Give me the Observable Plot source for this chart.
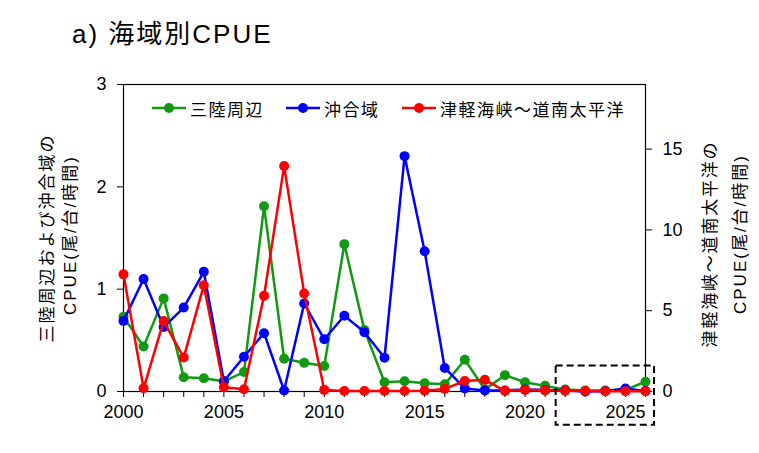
<!DOCTYPE html>
<html>
<head>
<meta charset="utf-8">
<script src="https://cdn.jsdelivr.net/npm/d3@7"></script>
<script src="https://cdn.jsdelivr.net/npm/@observablehq/plot@0.6"></script>
<style>
  html, body { margin: 0; padding: 0; background: #fff; }
  #wrap { position: relative; width: 759px; height: 453px; overflow: hidden; }
  #title { position: absolute; left: 72px; top: 20px; font-family: "Liberation Sans", "Noto Sans CJK JP", sans-serif; font-size: 26px; letter-spacing: 2px; line-height: 28px; color: #000; white-space: nowrap; }
  .leg { position: absolute; top: 98px; height: 20px; display: flex; align-items: center; font-family: "Noto Sans CJK JP", sans-serif; font-size: 17px; letter-spacing: 1.5px; color: #000; white-space: nowrap; }
  .leg svg { margin-right: 4px; }
</style>
</head>
<body>
<div id="wrap">
  <div id="title">a) 海域別CPUE</div>
</div>
<script>
// ---- data ----
const years = [2000,2001,2002,2003,2004,2005,2006,2007,2008,2009,2010,2011,2012,2013,2014,2015,2016,2017,2018,2019,2020,2021,2022,2023,2024,2025,2026];
// 三陸周辺 (left axis)
const sanriku = [0.73,0.44,0.91,0.14,0.13,0.10,0.19,1.81,0.32,0.28,0.25,1.44,0.60,0.09,0.10,0.08,0.07,0.31,0.02,0.16,0.09,0.055,0.02,0.01,0.01,0.015,0.095];
// 沖合域 (left axis)
const okiai = [0.69,1.10,0.63,0.82,1.17,0.10,0.34,0.57,0.01,0.86,0.51,0.74,0.58,0.33,2.30,1.37,0.23,0.03,0.01,0.01,0.02,0.015,0.01,0.0,0.005,0.03,0.005];
// 津軽海峡～道南太平洋 (right axis)
const tsugaru = [7.25,0.2,4.36,2.1,6.58,0.27,0.14,5.92,13.95,6.07,0.1,0.03,0.03,0.03,0.03,0.05,0.16,0.65,0.72,0.04,0.1,0.07,0.05,0.03,0.02,0.02,0.02];
const seriesNames = ["三陸周辺", "沖合域", "津軽海峡～道南太平洋"];
const seriesColors = ["#119911", "#0000ff", "#ff0000"];
const leftTicks = [0, 1, 2, 3];
const rightTicks = [0, 5, 10, 15];
const leftMax = 3, rightMax = 19;
const xLabelEvery = 5;
const highlightBox = [{from: 2021.55, to: 2026.45, lo: -0.33, hi: 0.25}];
const leftTitle = ["三陸周辺および沖合域の", "CPUE(尾/台/時間)"];
const rightTitle = ["津軽海峡～道南太平洋の", "CPUE(尾/台/時間)"];

// ---- build table ----
const toLeft = v => v * leftMax / rightMax;
const rows = [];
years.forEach((yr, i) => {
  rows.push({year: yr, v: sanriku[i], s: seriesNames[0]});
  rows.push({year: yr, v: okiai[i], s: seriesNames[1]});
  rows.push({year: yr, v: toLeft(tsugaru[i]), s: seriesNames[2]});
});

const marks = [
  Plot.frame({stroke: "#000", strokeWidth: 1.2}),
  Plot.axisX({ticks: years, tickSize: 6, tickPadding: 8, label: null, fontSize: 18,
    tickFormat: d => d % xLabelEvery === 0 ? String(d) : ""}),
  Plot.axisY({ticks: leftTicks, tickSize: 6, tickPadding: 11, label: null, fontSize: 18, tickFormat: d => String(d)}),
  Plot.axisY(rightTicks.map(toLeft), {anchor: "right", tickSize: 6, tickPadding: 11, label: null, fontSize: 18,
    tickFormat: d => String(Math.round(d * rightMax / leftMax))})
];
seriesNames.forEach((name, k) => {
  const data = rows.filter(r => r.s === name);
  marks.push(Plot.line(data, {x: "year", y: "v", stroke: seriesColors[k], strokeWidth: 2.5}));
  marks.push(Plot.dot(data, {x: "year", y: "v", fill: seriesColors[k], r: 5, stroke: "none"}));
});
marks.push(Plot.rect(highlightBox, {x1: "from", x2: "to", y1: "lo", y2: "hi", fill: "none",
  stroke: "#000", strokeWidth: 2, strokeDasharray: "7,4", clip: false}));

const chart = Plot.plot({
  width: 759, height: 453,
  marginLeft: 123, marginRight: 114, marginTop: 84, marginBottom: 62,
  x: {domain: [2000, 2026]},
  y: {domain: [0, leftMax]},
  style: {fontFamily: "'Liberation Sans', Arial, sans-serif", fontSize: "18px", color: "#000", background: "transparent", overflow: "visible"},
  marks
});
const wrap = document.getElementById("wrap");
chart.style.position = "absolute";
chart.style.left = "0px";
chart.style.top = "0px";
wrap.appendChild(chart);

// axis titles
const svg = d3.select(chart);
function vtitle(text, x, y, spacing) {
  svg.append("text")
    .attr("transform", `translate(${x},${y}) rotate(-90)`)
    .attr("text-anchor", "middle")
    .attr("dominant-baseline", "central")
    .attr("fill", "#000")
    .style("fill", "#000")
    .style("font-family", "'Liberation Sans', 'Noto Sans CJK JP', sans-serif")
    .style("font-size", "17px")
    .style("letter-spacing", spacing + "px")
    .text(text);
}
vtitle(leftTitle[0], 47, 238, 2);
vtitle(leftTitle[1], 70, 235, 2);
vtitle(rightTitle[0], 710, 244, 1.8);
vtitle(rightTitle[1], 740, 234, 2);

// legend
const legX = [152, 286, 402];
seriesNames.forEach((name, k) => {
  const d = document.createElement("div");
  d.className = "leg";
  d.style.left = legX[k] + "px";
  d.innerHTML = `<svg width="34" height="12"><line x1="0" y1="6" x2="34" y2="6" stroke="${seriesColors[k]}" stroke-width="2.5"/><circle cx="17" cy="6" r="5" fill="${seriesColors[k]}"/></svg><span>${name}</span>`;
  wrap.appendChild(d);
});
</script>
</body>
</html>
